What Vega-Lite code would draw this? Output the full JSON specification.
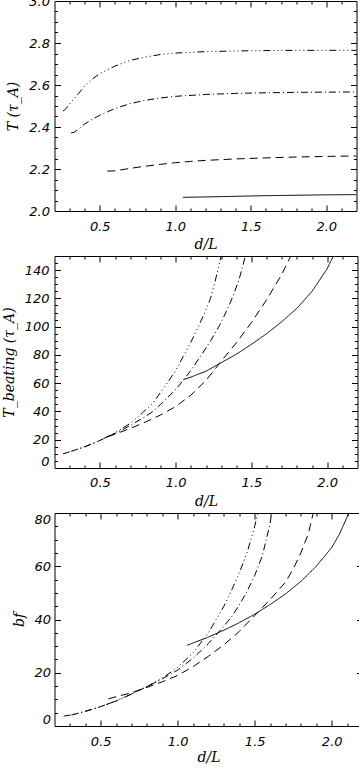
{
  "$schema": "https://vega.github.io/schema/vega-lite/v6.json",
  "padding": {"left": 1.5, "top": -6, "right": 0, "bottom": 0},
  "background": "white",
  "spacing": 3,
  "columns": 1,
  "align": "none",
  "config": {
    "view": {"stroke": "black", "strokeWidth": 1},
    "axis": {
      "grid": false,
      "domain": false,
      "tickColor": "black",
      "tickWidth": 1,
      "labelColor": "black",
      "titleColor": "black",
      "labelFont": "DejaVu Sans",
      "labelFontStyle": "italic",
      "labelFontSize": 13,
      "titleFont": "DejaVu Serif",
      "titleFontStyle": "italic",
      "titleFontWeight": "normal",
      "titleFontSize": 14
    }
  },
  "datasets": {
    "T": [
      {"style": "solid", "d": 1.05, "v": 2.065}, {"style": "solid", "d": 1.2, "v": 2.067}, {"style": "solid", "d": 1.4, "v": 2.07}, {"style": "solid", "d": 1.6, "v": 2.073}, {"style": "solid", "d": 1.8, "v": 2.075}, {"style": "solid", "d": 2.0, "v": 2.077}, {"style": "solid", "d": 2.2, "v": 2.078},
      {"style": "dashed", "d": 0.55, "v": 2.19}, {"style": "dashed", "d": 0.6, "v": 2.191}, {"style": "dashed", "d": 0.7, "v": 2.203}, {"style": "dashed", "d": 0.8, "v": 2.213}, {"style": "dashed", "d": 0.9, "v": 2.222}, {"style": "dashed", "d": 1.0, "v": 2.23}, {"style": "dashed", "d": 1.1, "v": 2.236}, {"style": "dashed", "d": 1.2, "v": 2.241}, {"style": "dashed", "d": 1.4, "v": 2.248}, {"style": "dashed", "d": 1.6, "v": 2.253}, {"style": "dashed", "d": 1.8, "v": 2.257}, {"style": "dashed", "d": 2.0, "v": 2.26}, {"style": "dashed", "d": 2.2, "v": 2.262},
      {"style": "dashdot", "d": 0.31, "v": 2.372}, {"style": "dashdot", "d": 0.33, "v": 2.375}, {"style": "dashdot", "d": 0.36, "v": 2.39}, {"style": "dashdot", "d": 0.4, "v": 2.414}, {"style": "dashdot", "d": 0.45, "v": 2.437}, {"style": "dashdot", "d": 0.5, "v": 2.456}, {"style": "dashdot", "d": 0.6, "v": 2.488}, {"style": "dashdot", "d": 0.7, "v": 2.511}, {"style": "dashdot", "d": 0.8, "v": 2.527}, {"style": "dashdot", "d": 0.9, "v": 2.538}, {"style": "dashdot", "d": 1.0, "v": 2.546}, {"style": "dashdot", "d": 1.2, "v": 2.555}, {"style": "dashdot", "d": 1.4, "v": 2.56}, {"style": "dashdot", "d": 1.6, "v": 2.563}, {"style": "dashdot", "d": 1.8, "v": 2.565}, {"style": "dashdot", "d": 2.0, "v": 2.566}, {"style": "dashdot", "d": 2.2, "v": 2.567},
      {"style": "dashdotdotdot", "d": 0.256, "v": 2.475}, {"style": "dashdotdotdot", "d": 0.28, "v": 2.49}, {"style": "dashdotdotdot", "d": 0.3, "v": 2.51}, {"style": "dashdotdotdot", "d": 0.33, "v": 2.535}, {"style": "dashdotdotdot", "d": 0.36, "v": 2.56}, {"style": "dashdotdotdot", "d": 0.4, "v": 2.595}, {"style": "dashdotdotdot", "d": 0.45, "v": 2.628}, {"style": "dashdotdotdot", "d": 0.5, "v": 2.654}, {"style": "dashdotdotdot", "d": 0.6, "v": 2.69}, {"style": "dashdotdotdot", "d": 0.7, "v": 2.717}, {"style": "dashdotdotdot", "d": 0.8, "v": 2.733}, {"style": "dashdotdotdot", "d": 0.9, "v": 2.745}, {"style": "dashdotdotdot", "d": 1.0, "v": 2.752}, {"style": "dashdotdotdot", "d": 1.2, "v": 2.759}, {"style": "dashdotdotdot", "d": 1.4, "v": 2.762}, {"style": "dashdotdotdot", "d": 1.6, "v": 2.764}, {"style": "dashdotdotdot", "d": 1.8, "v": 2.765}, {"style": "dashdotdotdot", "d": 2.0, "v": 2.765}, {"style": "dashdotdotdot", "d": 2.2, "v": 2.765}
    ],
    "Tb": [
      {"style": "dashdotdotdot", "d": 0.256, "v": 10}, {"style": "dashdotdotdot", "d": 0.3, "v": 11.5}, {"style": "dashdotdotdot", "d": 0.4, "v": 15}, {"style": "dashdotdotdot", "d": 0.5, "v": 19.5}, {"style": "dashdotdotdot", "d": 0.6, "v": 25}, {"style": "dashdotdotdot", "d": 0.7, "v": 31.5}, {"style": "dashdotdotdot", "d": 0.78, "v": 39}, {"style": "dashdotdotdot", "d": 0.85, "v": 46}, {"style": "dashdotdotdot", "d": 0.93, "v": 58}, {"style": "dashdotdotdot", "d": 1.0, "v": 69}, {"style": "dashdotdotdot", "d": 1.05, "v": 79}, {"style": "dashdotdotdot", "d": 1.1, "v": 89}, {"style": "dashdotdotdot", "d": 1.15, "v": 100}, {"style": "dashdotdotdot", "d": 1.2, "v": 112}, {"style": "dashdotdotdot", "d": 1.23, "v": 120}, {"style": "dashdotdotdot", "d": 1.26, "v": 132}, {"style": "dashdotdotdot", "d": 1.3, "v": 150},
      {"style": "dashdot", "d": 0.31, "v": 11.8}, {"style": "dashdot", "d": 0.4, "v": 15}, {"style": "dashdot", "d": 0.5, "v": 19.5}, {"style": "dashdot", "d": 0.6, "v": 24.5}, {"style": "dashdot", "d": 0.7, "v": 30}, {"style": "dashdot", "d": 0.8, "v": 36.5}, {"style": "dashdot", "d": 0.85, "v": 40}, {"style": "dashdot", "d": 0.9, "v": 45}, {"style": "dashdot", "d": 1.0, "v": 55.5}, {"style": "dashdot", "d": 1.05, "v": 62}, {"style": "dashdot", "d": 1.1, "v": 69}, {"style": "dashdot", "d": 1.17, "v": 80}, {"style": "dashdot", "d": 1.23, "v": 90}, {"style": "dashdot", "d": 1.29, "v": 101}, {"style": "dashdot", "d": 1.34, "v": 112}, {"style": "dashdot", "d": 1.38, "v": 122}, {"style": "dashdot", "d": 1.42, "v": 134}, {"style": "dashdot", "d": 1.46, "v": 150},
      {"style": "dashed", "d": 0.55, "v": 22}, {"style": "dashed", "d": 0.6, "v": 24}, {"style": "dashed", "d": 0.7, "v": 28}, {"style": "dashed", "d": 0.8, "v": 32.5}, {"style": "dashed", "d": 0.9, "v": 37.5}, {"style": "dashed", "d": 1.0, "v": 43.5}, {"style": "dashed", "d": 1.1, "v": 51.5}, {"style": "dashed", "d": 1.2, "v": 62}, {"style": "dashed", "d": 1.26, "v": 70}, {"style": "dashed", "d": 1.3, "v": 75.5}, {"style": "dashed", "d": 1.4, "v": 88.5}, {"style": "dashed", "d": 1.5, "v": 103}, {"style": "dashed", "d": 1.6, "v": 119}, {"style": "dashed", "d": 1.7, "v": 137}, {"style": "dashed", "d": 1.76, "v": 150},
      {"style": "solid", "d": 1.05, "v": 62.5}, {"style": "solid", "d": 1.1, "v": 64.3}, {"style": "solid", "d": 1.2, "v": 68.5}, {"style": "solid", "d": 1.3, "v": 74.5}, {"style": "solid", "d": 1.4, "v": 80.5}, {"style": "solid", "d": 1.5, "v": 87.5}, {"style": "solid", "d": 1.6, "v": 95}, {"style": "solid", "d": 1.7, "v": 103.5}, {"style": "solid", "d": 1.8, "v": 113}, {"style": "solid", "d": 1.9, "v": 125}, {"style": "solid", "d": 2.0, "v": 141}, {"style": "solid", "d": 2.04, "v": 150}
    ],
    "bf": [
      {"style": "dashdotdotdot", "d": 0.26, "v": 3.7}, {"style": "dashdotdotdot", "d": 0.3, "v": 4.1}, {"style": "dashdotdotdot", "d": 0.4, "v": 5.5}, {"style": "dashdotdotdot", "d": 0.5, "v": 7.3}, {"style": "dashdotdotdot", "d": 0.6, "v": 9.4}, {"style": "dashdotdotdot", "d": 0.7, "v": 12}, {"style": "dashdotdotdot", "d": 0.8, "v": 14.8}, {"style": "dashdotdotdot", "d": 0.9, "v": 18}, {"style": "dashdotdotdot", "d": 1.0, "v": 22}, {"style": "dashdotdotdot", "d": 1.1, "v": 27.5}, {"style": "dashdotdotdot", "d": 1.2, "v": 35}, {"style": "dashdotdotdot", "d": 1.25, "v": 40}, {"style": "dashdotdotdot", "d": 1.3, "v": 45}, {"style": "dashdotdotdot", "d": 1.35, "v": 51}, {"style": "dashdotdotdot", "d": 1.4, "v": 57.5}, {"style": "dashdotdotdot", "d": 1.45, "v": 65}, {"style": "dashdotdotdot", "d": 1.5, "v": 75}, {"style": "dashdotdotdot", "d": 1.52, "v": 80},
      {"style": "dashdot", "d": 0.31, "v": 4.1}, {"style": "dashdot", "d": 0.4, "v": 5.5}, {"style": "dashdot", "d": 0.5, "v": 7.3}, {"style": "dashdot", "d": 0.6, "v": 9.4}, {"style": "dashdot", "d": 0.7, "v": 12}, {"style": "dashdot", "d": 0.8, "v": 14.8}, {"style": "dashdot", "d": 0.9, "v": 17.7}, {"style": "dashdot", "d": 1.0, "v": 21}, {"style": "dashdot", "d": 1.1, "v": 25.5}, {"style": "dashdot", "d": 1.2, "v": 31}, {"style": "dashdot", "d": 1.3, "v": 37.5}, {"style": "dashdot", "d": 1.35, "v": 41}, {"style": "dashdot", "d": 1.4, "v": 45.5}, {"style": "dashdot", "d": 1.45, "v": 50.5}, {"style": "dashdot", "d": 1.5, "v": 56.5}, {"style": "dashdot", "d": 1.55, "v": 64}, {"style": "dashdot", "d": 1.6, "v": 76}, {"style": "dashdot", "d": 1.61, "v": 80},
      {"style": "dashed", "d": 0.55, "v": 10.2}, {"style": "dashed", "d": 0.6, "v": 11}, {"style": "dashed", "d": 0.7, "v": 12.5}, {"style": "dashed", "d": 0.8, "v": 14.5}, {"style": "dashed", "d": 0.9, "v": 16.6}, {"style": "dashed", "d": 1.0, "v": 19}, {"style": "dashed", "d": 1.1, "v": 22.3}, {"style": "dashed", "d": 1.2, "v": 26.2}, {"style": "dashed", "d": 1.3, "v": 30.5}, {"style": "dashed", "d": 1.4, "v": 35.5}, {"style": "dashed", "d": 1.5, "v": 41.5}, {"style": "dashed", "d": 1.6, "v": 47.5}, {"style": "dashed", "d": 1.7, "v": 54}, {"style": "dashed", "d": 1.75, "v": 59}, {"style": "dashed", "d": 1.8, "v": 65}, {"style": "dashed", "d": 1.85, "v": 72.5}, {"style": "dashed", "d": 1.88, "v": 80},
      {"style": "solid", "d": 1.06, "v": 30.3}, {"style": "solid", "d": 1.1, "v": 31.2}, {"style": "solid", "d": 1.2, "v": 33.4}, {"style": "solid", "d": 1.3, "v": 36}, {"style": "solid", "d": 1.4, "v": 38.8}, {"style": "solid", "d": 1.5, "v": 42}, {"style": "solid", "d": 1.6, "v": 45.6}, {"style": "solid", "d": 1.7, "v": 49.6}, {"style": "solid", "d": 1.8, "v": 54.3}, {"style": "solid", "d": 1.9, "v": 60}, {"style": "solid", "d": 2.0, "v": 67}, {"style": "solid", "d": 2.05, "v": 72}, {"style": "solid", "d": 2.1, "v": 78.5}, {"style": "solid", "d": 2.115, "v": 80}
    ]
  },
  "concat": [
    {
      "width": 302,
      "height": 210,
      "data": {"name": "T"},
      "layer": [
        {
          "mark": {"type": "line", "color": "black", "strokeWidth": 1, "clip": true},
          "encoding": {
            "x": {"field": "d", "type": "quantitative", "scale": {"domain": [0.2, 2.2], "nice": false, "zero": false},
              "axis": {"orient": "bottom", "title": "d/L", "values": [0.5, 1, 1.5, 2], "format": ".1f", "ticks": false, "labelPadding": 9, "minExtent": 23, "maxExtent": 23, "titlePadding": 3}},
            "y": {"field": "v", "type": "quantitative", "scale": {"domain": [2, 3], "nice": false, "zero": false},
              "axis": {"orient": "left", "title": "T (τ_A)", "values": [2, 2.2, 2.4, 2.6, 2.8, 3], "format": ".1f", "ticks": false, "labelPadding": 5, "minExtent": 30, "maxExtent": 30, "titlePadding": 4.5}},
            "strokeDash": {"field": "style", "type": "nominal", "legend": null,
              "scale": {"domain": ["solid", "dashed", "dashdot", "dashdotdotdot"], "range": [[1, 0], [8, 5], [7, 3, 1, 3], [7, 3, 1, 3, 1, 3, 1, 3]]}}
          }
        },
        {
          "mark": {"type": "line", "opacity": 0},
          "encoding": {
            "x": {"field": "d", "type": "quantitative", "axis": {"orient": "bottom", "title": null, "labels": false, "values": [0.5, 1, 1.5, 2], "tickSize": 6, "offset": -6, "minExtent": 0, "maxExtent": 0}},
            "y": {"field": "v", "type": "quantitative", "axis": {"orient": "left", "title": null, "labels": false, "values": [2.2, 2.4, 2.6, 2.8], "tickSize": 6, "offset": -6, "minExtent": 0, "maxExtent": 0}},
            "detail": {"field": "style", "type": "nominal"}
          }
        },
        {
          "mark": {"type": "line", "opacity": 0},
          "encoding": {
            "x": {"field": "d", "type": "quantitative", "axis": {"orient": "top", "title": null, "labels": false, "values": [0.5, 1, 1.5, 2], "tickSize": 6, "offset": -6, "minExtent": 0, "maxExtent": 0}},
            "y": {"field": "v", "type": "quantitative", "axis": {"orient": "right", "title": null, "labels": false, "values": [2.2, 2.4, 2.6, 2.8], "tickSize": 6, "offset": -6, "minExtent": 0, "maxExtent": 0}},
            "detail": {"field": "style", "type": "nominal"}
          }
        },
        {
          "mark": {"type": "line", "opacity": 0},
          "encoding": {
            "x": {"field": "d", "type": "quantitative", "axis": {"orient": "bottom", "title": null, "labels": false, "values": [0.3, 0.4, 0.6, 0.7, 0.8, 0.9, 1.1, 1.2, 1.3, 1.4, 1.6, 1.7, 1.8, 1.9, 2.1], "tickSize": 3, "offset": -3, "minExtent": 0, "maxExtent": 0}},
            "y": {"field": "v", "type": "quantitative", "axis": {"orient": "left", "title": null, "labels": false, "values": [2.05, 2.1, 2.15, 2.25, 2.3, 2.35, 2.45, 2.5, 2.55, 2.65, 2.7, 2.75, 2.85, 2.9, 2.95], "tickSize": 3, "offset": -3, "minExtent": 0, "maxExtent": 0}},
            "detail": {"field": "style", "type": "nominal"}
          }
        },
        {
          "mark": {"type": "line", "opacity": 0},
          "encoding": {
            "x": {"field": "d", "type": "quantitative", "axis": {"orient": "top", "title": null, "labels": false, "values": [0.3, 0.4, 0.6, 0.7, 0.8, 0.9, 1.1, 1.2, 1.3, 1.4, 1.6, 1.7, 1.8, 1.9, 2.1], "tickSize": 3, "offset": -3, "minExtent": 0, "maxExtent": 0}},
            "y": {"field": "v", "type": "quantitative", "axis": {"orient": "right", "title": null, "labels": false, "values": [2.05, 2.1, 2.15, 2.25, 2.3, 2.35, 2.45, 2.5, 2.55, 2.65, 2.7, 2.75, 2.85, 2.9, 2.95], "tickSize": 3, "offset": -3, "minExtent": 0, "maxExtent": 0}},
            "detail": {"field": "style", "type": "nominal"}
          }
        }
      ],
      "resolve": {"axis": {"x": "independent", "y": "independent"}}
    },
    {
      "width": 303,
      "height": 212,
      "data": {"name": "Tb"},
      "layer": [
        {
          "mark": {"type": "line", "color": "black", "strokeWidth": 1, "clip": true},
          "encoding": {
            "x": {"field": "d", "type": "quantitative", "scale": {"domain": [0.2, 2.2], "nice": false, "zero": false},
              "axis": {"orient": "bottom", "title": "d/L", "values": [0.5, 1, 1.5, 2], "format": ".1f", "ticks": false, "labelPadding": 8.5, "minExtent": 23, "maxExtent": 23, "titlePadding": 3}},
            "y": {"field": "v", "type": "quantitative", "scale": {"domain": [0, 150], "nice": false, "zero": false},
              "axis": {"orient": "left", "title": "T_beating (τ_A)", "values": [0, 20, 40, 60, 80, 100, 120, 140], "format": "d", "ticks": false, "labelFlush": true, "labelPadding": 5.5, "minExtent": 33.5, "maxExtent": 33.5, "titlePadding": 5}},
            "strokeDash": {"field": "style", "type": "nominal", "legend": null,
              "scale": {"domain": ["solid", "dashed", "dashdot", "dashdotdotdot"], "range": [[1, 0], [8, 5], [7, 3, 1, 3], [7, 3, 1, 3, 1, 3, 1, 3]]}}
          }
        },
        {
          "mark": {"type": "line", "opacity": 0},
          "encoding": {
            "x": {"field": "d", "type": "quantitative", "axis": {"orient": "bottom", "title": null, "labels": false, "values": [0.5, 1, 1.5, 2], "tickSize": 6, "offset": -6, "minExtent": 0, "maxExtent": 0}},
            "y": {"field": "v", "type": "quantitative", "axis": {"orient": "left", "title": null, "labels": false, "values": [20, 40, 60, 80, 100, 120, 140], "tickSize": 6, "offset": -6, "minExtent": 0, "maxExtent": 0}},
            "detail": {"field": "style", "type": "nominal"}
          }
        },
        {
          "mark": {"type": "line", "opacity": 0},
          "encoding": {
            "x": {"field": "d", "type": "quantitative", "axis": {"orient": "top", "title": null, "labels": false, "values": [0.5, 1, 1.5, 2], "tickSize": 6, "offset": -6, "minExtent": 0, "maxExtent": 0}},
            "y": {"field": "v", "type": "quantitative", "axis": {"orient": "right", "title": null, "labels": false, "values": [20, 40, 60, 80, 100, 120, 140], "tickSize": 6, "offset": -6, "minExtent": 0, "maxExtent": 0}},
            "detail": {"field": "style", "type": "nominal"}
          }
        },
        {
          "mark": {"type": "line", "opacity": 0},
          "encoding": {
            "x": {"field": "d", "type": "quantitative", "axis": {"orient": "bottom", "title": null, "labels": false, "values": [0.3, 0.4, 0.6, 0.7, 0.8, 0.9, 1.1, 1.2, 1.3, 1.4, 1.6, 1.7, 1.8, 1.9, 2.1], "tickSize": 3, "offset": -3, "minExtent": 0, "maxExtent": 0}},
            "y": {"field": "v", "type": "quantitative", "axis": {"orient": "left", "title": null, "labels": false, "values": [5, 10, 15, 25, 30, 35, 45, 50, 55, 65, 70, 75, 85, 90, 95, 105, 110, 115, 125, 130, 135, 145], "tickSize": 3, "offset": -3, "minExtent": 0, "maxExtent": 0}},
            "detail": {"field": "style", "type": "nominal"}
          }
        },
        {
          "mark": {"type": "line", "opacity": 0},
          "encoding": {
            "x": {"field": "d", "type": "quantitative", "axis": {"orient": "top", "title": null, "labels": false, "values": [0.3, 0.4, 0.6, 0.7, 0.8, 0.9, 1.1, 1.2, 1.3, 1.4, 1.6, 1.7, 1.8, 1.9, 2.1], "tickSize": 3, "offset": -3, "minExtent": 0, "maxExtent": 0}},
            "y": {"field": "v", "type": "quantitative", "axis": {"orient": "right", "title": null, "labels": false, "values": [5, 10, 15, 25, 30, 35, 45, 50, 55, 65, 70, 75, 85, 90, 95, 105, 110, 115, 125, 130, 135, 145], "tickSize": 3, "offset": -3, "minExtent": 0, "maxExtent": 0}},
            "detail": {"field": "style", "type": "nominal"}
          }
        }
      ],
      "resolve": {"axis": {"x": "independent", "y": "independent"}}
    },
    {
      "width": 308,
      "height": 213,
      "data": {"name": "bf"},
      "layer": [
        {
          "mark": {"type": "line", "color": "black", "strokeWidth": 1, "clip": true},
          "encoding": {
            "x": {"field": "d", "type": "quantitative", "scale": {"domain": [0.2, 2.2], "nice": false, "zero": false},
              "axis": {"orient": "bottom", "title": "d/L", "values": [0.5, 1, 1.5, 2], "format": ".1f", "ticks": false, "labelPadding": 9.5, "minExtent": 23, "maxExtent": 23, "titlePadding": 1.5}},
            "y": {"field": "v", "type": "quantitative", "scale": {"domain": [0, 80], "nice": false, "zero": false},
              "axis": {"orient": "left", "title": "bf", "values": [0, 20, 40, 60, 80], "format": "d", "ticks": false, "labelFlush": true, "labelPadding": 4, "minExtent": 24, "maxExtent": 24, "titlePadding": 4.5}},
            "strokeDash": {"field": "style", "type": "nominal", "legend": null,
              "scale": {"domain": ["solid", "dashed", "dashdot", "dashdotdotdot"], "range": [[1, 0], [8, 5], [7, 3, 1, 3], [7, 3, 1, 3, 1, 3, 1, 3]]}}
          }
        },
        {
          "mark": {"type": "line", "opacity": 0},
          "encoding": {
            "x": {"field": "d", "type": "quantitative", "axis": {"orient": "bottom", "title": null, "labels": false, "values": [0.5, 1, 1.5, 2], "tickSize": 6, "offset": -6, "minExtent": 0, "maxExtent": 0}},
            "y": {"field": "v", "type": "quantitative", "axis": {"orient": "left", "title": null, "labels": false, "values": [20, 40, 60], "tickSize": 6, "offset": -6, "minExtent": 0, "maxExtent": 0}},
            "detail": {"field": "style", "type": "nominal"}
          }
        },
        {
          "mark": {"type": "line", "opacity": 0},
          "encoding": {
            "x": {"field": "d", "type": "quantitative", "axis": {"orient": "top", "title": null, "labels": false, "values": [0.5, 1, 1.5, 2], "tickSize": 6, "offset": -6, "minExtent": 0, "maxExtent": 0}},
            "y": {"field": "v", "type": "quantitative", "axis": {"orient": "right", "title": null, "labels": false, "values": [20, 40, 60], "tickSize": 6, "offset": -6, "minExtent": 0, "maxExtent": 0}},
            "detail": {"field": "style", "type": "nominal"}
          }
        },
        {
          "mark": {"type": "line", "opacity": 0},
          "encoding": {
            "x": {"field": "d", "type": "quantitative", "axis": {"orient": "bottom", "title": null, "labels": false, "values": [0.3, 0.4, 0.6, 0.7, 0.8, 0.9, 1.1, 1.2, 1.3, 1.4, 1.6, 1.7, 1.8, 1.9, 2.1], "tickSize": 3, "offset": -3, "minExtent": 0, "maxExtent": 0}},
            "y": {"field": "v", "type": "quantitative", "axis": {"orient": "left", "title": null, "labels": false, "values": [5, 10, 15, 25, 30, 35, 45, 50, 55, 65, 70, 75], "tickSize": 3, "offset": -3, "minExtent": 0, "maxExtent": 0}},
            "detail": {"field": "style", "type": "nominal"}
          }
        },
        {
          "mark": {"type": "line", "opacity": 0},
          "encoding": {
            "x": {"field": "d", "type": "quantitative", "axis": {"orient": "top", "title": null, "labels": false, "values": [0.3, 0.4, 0.6, 0.7, 0.8, 0.9, 1.1, 1.2, 1.3, 1.4, 1.6, 1.7, 1.8, 1.9, 2.1], "tickSize": 3, "offset": -3, "minExtent": 0, "maxExtent": 0}},
            "y": {"field": "v", "type": "quantitative", "axis": {"orient": "right", "title": null, "labels": false, "values": [5, 10, 15, 25, 30, 35, 45, 50, 55, 65, 70, 75], "tickSize": 3, "offset": -3, "minExtent": 0, "maxExtent": 0}},
            "detail": {"field": "style", "type": "nominal"}
          }
        }
      ],
      "resolve": {"axis": {"x": "independent", "y": "independent"}}
    }
  ]
}
